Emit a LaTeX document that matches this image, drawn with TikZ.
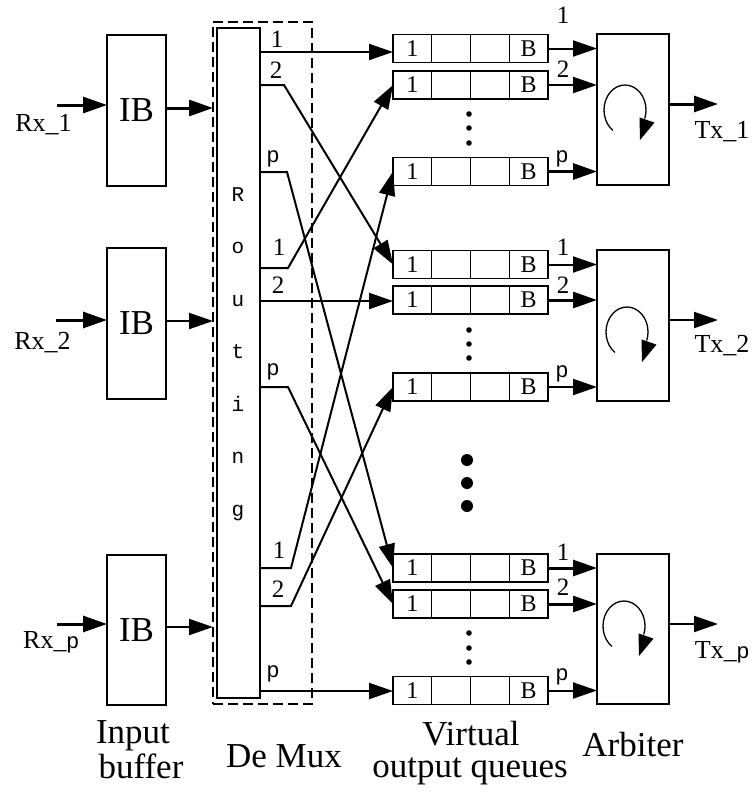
\documentclass[tikz,border=0pt]{standalone}
\usepackage{fontspec}
\setmainfont{Liberation Serif}
\newfontfamily\psans{Liberation Sans}
\newfontfamily\rmono{Liberation Mono}
\usetikzlibrary{arrows.meta}
\begin{document}
\begin{tikzpicture}[x=1pt,y=-1pt,
  box/.style={draw,line width=1.3pt,inner sep=0pt,outer sep=0pt},
  ibbox/.style={box,minimum width=59pt,minimum height=151pt,font=\fontsize{35}{35}\selectfont},
  cell/.style={box,minimum width=38.75pt,minimum height=28pt,font=\fontsize{24}{24}\selectfont},
  arbbox/.style={box,minimum width=72pt,minimum height=151pt},
  demux/.style={draw,line width=1.3pt,dash pattern=on 10pt off 5pt,inner sep=0pt,outer sep=0pt,minimum width=99pt,minimum height=682pt},
  conn/.style={line width=2pt,-{Triangle[length=24pt,width=16pt]}},
  thickconn/.style={line width=3pt,-{Triangle[length=24pt,width=16pt]}},
  num/.style={anchor=base,inner sep=0pt,font=\fontsize{25}{25}\selectfont},
  plab/.style={anchor=base,inner sep=0pt,font=\psans\fontsize{22}{22}\selectfont},
  io/.style={anchor=base,inner sep=0pt,font=\fontsize{26}{26}\selectfont},
  captxt/.style={anchor=base,inner sep=0pt,font=\fontsize{35}{35}\selectfont},
  rl/.style={anchor=base,inner sep=0pt,font=\rmono\fontsize{21}{21}\selectfont},
]
\fill[white] (0,0) rectangle (754,796);
\useasboundingbox (0,0) rectangle (754,796);

% input buffers
\node[ibbox] (ib1) at (136.5,110.5) {IB};
\node[ibbox] (ib2) at (136.5,323.5) {IB};
\node[ibbox,minimum height=150pt] (ibp) at (136.5,630) {IB};

% demux
\node[demux] (dm) at (262.5,363) {};
\node[box,minimum width=43pt,minimum height=670pt] (rt) at (238.5,363) {};
\foreach \l [count=\i from 0] in {R,o,u,t,i,n,g}
  \node[rl] (rl\i) at (238,{201+52.5*\i}) {\l};

% virtual output queues
\foreach \n/\y in {11/48.5, 12/85, 1p/171.5, 21/264.5, 22/300, 2p/387, p1/568, p2/604, pp/690.5} {
  \node[cell] (q\n-a) at (412.4,\y) {1};
  \node[cell] (q\n-b) at (451.1,\y) {};
  \node[cell] (q\n-c) at (489.9,\y) {};
  \node[cell] (q\n-d) at (528.6,\y) {B};
}

% arbiters
\node[arbbox] (arb1) at (633,109.5) {};
\node[arbbox] (arb2) at (633,325.5) {};
\node[arbbox,minimum height=150pt] (arbp) at (633,629) {};

% round-robin symbols
\foreach \cx/\cy in {625/110, 627/332, 624/626} {
  \draw[line width=1.3pt] ({\cx+21*cos(125)},{\cy+25*sin(125)}) arc[start angle=125,end angle=380,x radius=21,y radius=25];
  \fill ({\cx+15},{\cy+30}) -- ({\cx+14.5},{\cy+7.4}) -- ({\cx+29.5},{\cy+12.6}) -- cycle;
}

% small dots
\foreach \y in {114,128,143,330,344,358,633,648,662}
  \fill (469,\y) circle[radius=2.8pt];
% big dots
\foreach \y in {460,483,506}
  \fill (467,\y) circle[radius=6pt];

% inputs
\coordinate (rx1) at (57,105);
\coordinate (rx2) at (56,320);
\coordinate (rxp) at (57,624);
\draw[thickconn] (rx1) -- (rx1 -| ib1.west);
\draw[thickconn] (rx2) -- (rx2 -| ib2.west);
\draw[thickconn] (rxp) -- (rxp -| ibp.west);
\node[io] (rx1l) at (43.5,131) {Rx\_1};
\node[io] (rx2l) at (42.5,349) {Rx\_2};
\node[io] (rxpl) at (51,648) {Rx\_{\psans\fontsize{22}{22}\selectfont p}};

% IB to demux
\coordinate (ib1o) at ([yshift=2.5pt]ib1.east);
\coordinate (ib2o) at ([yshift=2.5pt]ib2.east);
\coordinate (ibpo) at ([yshift=3pt]ibp.east);
\draw[thickconn] (ib1o) -- (ib1o -| dm.west);
\draw[conn] (ib2o) -- (ib2o -| dm.west);
\draw[conn] (ibpo) -- (ibpo -| dm.west);

% routing outputs
\coordinate (o1-1) at (260,52);
\coordinate (o1-2) at (260,85);
\coordinate (o1-p) at (260,172);
\coordinate (o2-1) at (260,268);
\coordinate (o2-2) at (260,301);
\coordinate (o2-p) at (260,387);
\coordinate (op-1) at (260,568);
\coordinate (op-2) at (260,606);
\coordinate (op-p) at (260,691);

\draw[conn] (o1-1) -- (o1-1 -| q11-a.west);
\draw[conn] (o1-2) -- ++(24,0) -- (q21-a.west);
\draw[conn] (o1-p) -- ++(27,0) -- (qp1-a.west);
\draw[conn] (o2-1) -- ++(28,0) -- (q12-a.west);
\draw[conn] (o2-2) -- (o2-2 -| q22-a.west);
\draw[conn] (o2-p) -- ++(28,0) -- (qp2-a.west);
\draw[conn] (op-1) -- ++(31,0) -- (q1p-a.west);
\draw[conn] (op-2) -- ++(31,0) -- (q2p-a.west);
\draw[conn] (op-p) -- (op-p -| qpp-a.west);

\node[num] (l1-1) at (277,47) {1};
\node[num] (l1-2) at (276,78) {2};
\node[plab] (l1-p) at (273,162) {p};
\node[num] (l2-1) at (279,255) {1};
\node[num] (l2-2) at (278,293) {2};
\node[plab] (l2-p) at (273,375) {p};
\node[num] (lp-1) at (279,558) {1};
\node[num] (lp-2) at (278,597) {2};
\node[plab] (lp-p) at (273,677) {p};

% VOQ to arbiter
\draw[conn] (q11-d.east) -- (q11-d.east -| arb1.west);
\draw[conn] (q12-d.east) -- (q12-d.east -| arb1.west);
\draw[thickconn] (q1p-d.east) -- (q1p-d.east -| arb1.west);
\draw[conn] (q21-d.east) -- (q21-d.east -| arb2.west);
\draw[thickconn] (q22-d.east) -- (q22-d.east -| arb2.west);
\draw[conn] (q2p-d.east) -- (q2p-d.east -| arb2.west);
\draw[thickconn] (qp1-d.east) -- (qp1-d.east -| arbp.west);
\draw[thickconn] (qp2-d.east) -- (qp2-d.east -| arbp.west);
\draw[conn] (qpp-d.east) -- (qpp-d.east -| arbp.west);

\node[num] (a1-1) at (563,23) {1};
\node[num] (a1-2) at (563,77) {2};
\node[plab] (a1-p) at (562,162) {p};
\node[num] (a2-1) at (563,255) {1};
\node[num] (a2-2) at (563,293) {2};
\node[plab] (a2-p) at (562,377) {p};
\node[num] (ap-1) at (563,560) {1};
\node[num] (ap-2) at (563,595) {2};
\node[plab] (ap-p) at (562,680) {p};

% outputs
\coordinate (tx1) at ([yshift=5.5pt]arb1.east);
\coordinate (tx2) at ([yshift=5.5pt]arb2.east);
\coordinate (txp) at ([yshift=5pt]arbp.east);
\draw[thickconn] (tx1) -- ++(49,0);
\draw[conn] (tx2) -- ++(49,0);
\draw[conn] (txp) -- ++(49,0);
\node[io] (tx1l) at (722,138) {Tx\_1};
\node[io] (tx2l) at (722,352) {Tx\_2};
\node[io] (txpl) at (722,658) {Tx\_{\psans\fontsize{22}{22}\selectfont p}};

% captions
\node[captxt] (capIn1) at (133,743) {Input};
\node[captxt] (capIn2) at (141,778) {buffer};
\node[captxt] (capDm) at (284,767) {De Mux};
\node[captxt] (capV1) at (471,745) {Virtual};
\node[captxt] (capV2) at (470,777) {output queues};
\node[captxt] (capArb) at (633,756) {Arbiter};
\end{tikzpicture}
\end{document}
